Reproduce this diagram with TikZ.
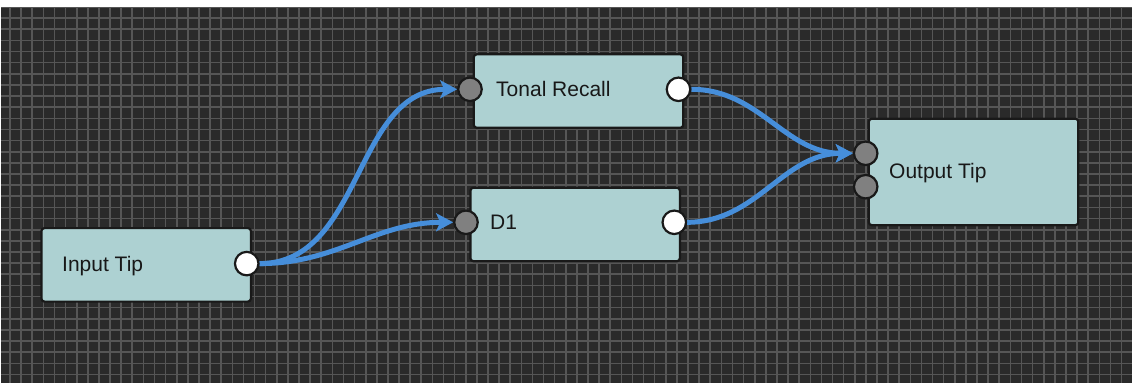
\documentclass[tikz,border=0pt]{standalone}
\usepackage{fontspec}
\setmainfont{Liberation Sans}
\usetikzlibrary{arrows.meta}
\pgfdeclarelayer{back}
\pgfdeclarelayer{wires}
\pgfsetlayers{back,wires,main}

\definecolor{canvas}{RGB}{42,42,42}
\definecolor{gridc}{RGB}{86,86,86}
\definecolor{boxfill}{RGB}{173,209,210}
\definecolor{wireblue}{RGB}{70,142,218}
\definecolor{portgray}{RGB}{128,128,128}
\definecolor{labelc}{RGB}{24,24,24}

\tikzset{
  block/.style={draw=black!90, line width=2.2pt, fill=boxfill, rounded corners=3pt,
    inner sep=0pt, anchor=north west, minimum width=209.5pt, minimum height=73.5pt},
  blocklabel/.style={anchor=base west, inner sep=0pt, text=labelc,
    font=\fontsize{21pt}{24pt}\selectfont},
  port/.style={circle, draw=black!90, line width=2.2pt, inner sep=0pt, minimum size=23.5pt},
  inport/.style={port, fill=portgray},
  outport/.style={port, fill=white},
  wire/.style={draw=wireblue, line width=5pt,
    -{Stealth[length=17pt, width=18pt, inset=4pt]}},
}

\begin{document}
\begin{tikzpicture}[x=1pt, y=-1pt]
  \useasboundingbox (0,0) rectangle (1132,383);

  % canvas with grid
  \begin{pgfonlayer}{back}
    \fill[white] (0,0) rectangle (1132,383);
    \fill[canvas] (1,7) rectangle (1132,383);
    \begin{scope}
      \clip (1,7) rectangle (1132,383);
      \foreach \i in {0,...,103}
        \draw[gridc, line width=1.6pt] ({-1.1+11.115*\i},7) -- ++(0,376);
      \foreach \j in {0,...,34}
        \draw[gridc, line width=1.6pt] (1,{6.9+11.14*\j}) -- ++(1131,0);
    \end{scope}
  \end{pgfonlayer}

  % blocks
  \node[block] (inbox)  at (40.3,227)   {};
  \node[block] (trbox)  at (472.7,53.2) {};
  \node[block] (d1box)  at (469.3,186.6) {};
  \node[block, minimum height=106.5pt] (outbox) at (867.7,117.6) {};

  \node[blocklabel] (inlabel)  at (62,271.4)  {Input Tip};
  \node[blocklabel] (trlabel)  at (496,96.6)  {Tonal Recall};
  \node[blocklabel] (d1label)  at (490,229.8) {D1};
  \node[blocklabel] (outlabel) at (889,178.3) {Output Tip};

  % ports
  \node[outport] (inOut)  at (246.7,263.6) {};
  \node[inport]  (trIn)   at (470,89.3)    {};
  \node[outport] (trOut)  at (678.5,89.3)  {};
  \node[inport]  (d1In)   at (466,222.3)   {};
  \node[outport] (d1Out)  at (674.3,222.3) {};
  \node[inport]  (outIn1) at (865.7,153.3) {};
  \node[inport]  (outIn2) at (865.7,186.7) {};

  % connections
  \begin{pgfonlayer}{wires}
    \draw[wire] (inOut) to[out=0, in=180] (trIn);
    \draw[wire] (inOut) to[out=0, in=180] (d1In);
    \draw[wire] (trOut) to[out=0, in=180] (outIn1);
    \draw[wire] (d1Out) to[out=0, in=180] (outIn1);
  \end{pgfonlayer}
\end{tikzpicture}
\end{document}
